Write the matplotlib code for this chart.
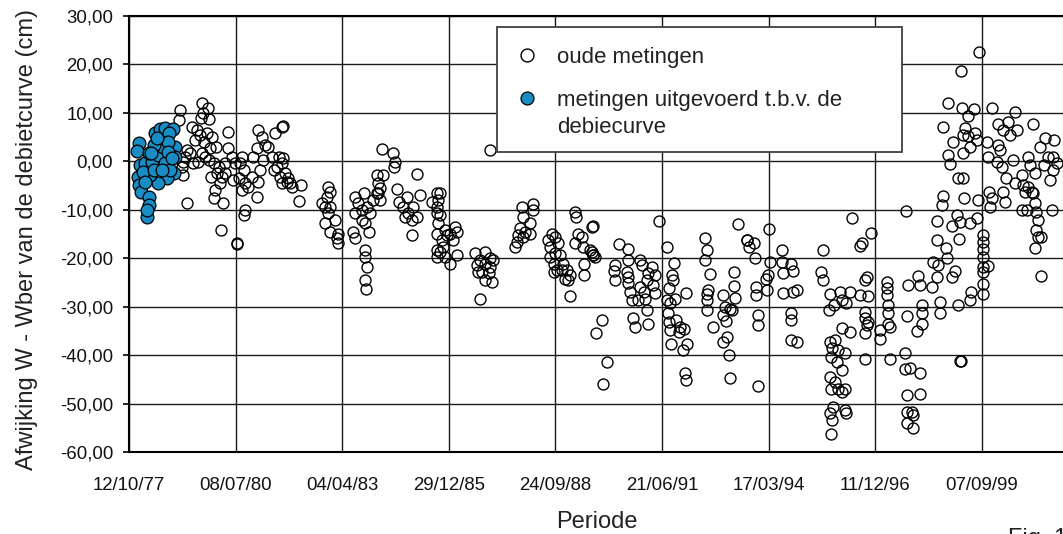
import datetime as dt
import matplotlib
matplotlib.use("Agg")
import matplotlib.pyplot as plt
from matplotlib.patches import Rectangle
from matplotlib.lines import Line2D

# ---------------- data (decimal years, cm) ----------------
# blue: metingen uitgevoerd t.b.v. de debiecurve
new_years = [1978.04, 1977.98, 1978.06, 1978.00, 1978.04, 1978.09, 1978.29, 1978.28, 1978.23, 1978.25,
             1978.45, 1978.58, 1978.70, 1978.92, 1978.81, 1978.96, 1978.96, 1978.94, 1978.75, 1978.53,
             1978.32, 1978.19, 1978.38, 1978.53, 1978.64, 1978.79, 1978.43, 1978.28, 1978.15, 1978.69,
             1978.83, 1978.41, 1978.62, 1978.49, 1978.77, 1978.19, 1978.35, 1978.88]
new_cm = [3.85, 2.2, -0.76, -3.2, -4.9, -6.3, -7.3, -9.0, -11.4, -10.05,
          5.8, 6.6, 6.8, 6.6, 5.8, 3.0, 0.96, -2.5, -3.5, -4.55,
          -2.8, -0.4, -0.07, 1.3, 3.0, 4.05, 3.36, 1.65, -2.1, -0.42,
          -1.8, -1.8, -1.8, 4.74, 2.0, -4.2, 1.65, 0.6]

# open circles: oude metingen, split by period
old_years_1979 = [1979.09, 1979.07, 1979.65, 1979.80, 1979.69, 1979.63, 1979.82, 1979.52, 1979.60, 1979.77,
                  1979.47, 1979.71, 1979.92, 1979.39, 1979.35, 1979.22, 1979.13, 1979.17, 1979.26, 1979.65,
                  1979.73, 1979.82, 1979.86, 1980.01, 1979.95, 1980.09, 1980.03, 1980.16, 1980.12, 1979.99,
                  1979.97, 1980.20, 1980.24, 1980.33, 1980.31, 1980.42, 1980.14, 1980.54, 1980.545, 1980.67,
                  1980.63, 1980.72, 1980.59, 1980.76, 1980.67, 1980.84, 1980.93, 1981.06, 1980.76, 1980.74,
                  1980.46, 1981.10, 1981.14, 1981.10, 1981.19, 1981.06, 1980.97, 1981.23, 1981.36, 1981.53,
                  1981.70, 1981.44, 1981.57, 1981.66, 1981.70, 1981.49, 1979.26, 1979.17, 1979.43, 1979.56,
                  1979.89, 1980.24, 1980.50, 1981.27, 1981.62]
old_cm_1979 = [10.6, 8.5, 12.0, 11.1, 9.9, 8.9, 8.7, 6.5, 5.4, 5.8,
               4.4, 4.05, 5.1, 7.15, 1.65, 0.96, -1.1, -2.8, -8.7, 1.65,
               0.96, 0.27, 2.7, 3.0, -0.4, -1.1, -2.5, -3.2, -4.55, -5.9,
               -7.65, -8.7, -0.4, 2.7, 6.1, 0.96, -14.2, -16.9, -17.0, 0.96,
               -0.4, -1.8, -3.5, -4.55, -5.9, -5.2, -3.2, -7.3, -10.05, -11.1,
               -3.9, -4.2, -1.8, 6.5, 5.1, 2.7, 0.96, 0.27, 3.0, 5.8,
               7.15, 0.96, -1.1, -3.2, -4.55, -1.8, 2.3, -0.07, -0.4, -0.07,
               -3.2, -2.5, -0.4, 3.4, 0.96]

old_years_1982 = [1981.74, 1981.74, 1981.70, 1981.79, 1981.87, 1981.91, 1981.83, 1981.96, 1982.19, 1982.14,
                  1982.90, 1982.94, 1982.86, 1982.73, 1982.81, 1982.94, 1982.90, 1982.81, 1983.07, 1982.94,
                  1983.15, 1983.13, 1983.15, 1983.58, 1983.80, 1983.67, 1983.75, 1983.58, 1983.88, 1983.97,
                  1983.54, 1983.58, 1983.93, 1983.84, 1983.84, 1983.84, 1983.88, 1983.84, 1983.87, 1983.75,
                  1984.05, 1984.14, 1984.22, 1984.18, 1984.14, 1984.29, 1984.27, 1984.57, 1984.61, 1984.59,
                  1984.22, 1984.18, 1984.65, 1984.91, 1985.17, 1985.25, 1984.82, 1984.95, 1985.08, 1985.04,
                  1985.04, 1984.87, 1985.17, 1984.70, 1985.55, 1985.68, 1985.68, 1985.70, 1985.68, 1985.68]
old_cm_1982 = [7.3, 0.6, -0.4, -2.5, -3.5, -4.5, -4.2, -5.2, -4.9, -8.1,
               -5.2, -6.3, -7.3, -8.7, -9.4, -9.4, -10.7, -12.8, -12.1, -14.5,
               -14.9, -15.9, -16.9, -7.3, -6.6, -8.7, -10.1, -10.7, -9.4, -10.7,
               -14.5, -15.9, -14.5, -12.8, -18.3, -19.7, -21.8, -24.5, -26.4, -12.1,
               -8.0, -6.6, -5.6, -4.5, -2.8, -2.8, 2.5, 1.8, -0.1, -1.1,
               -8.0, -6.6, -5.8, -7.3, -2.7, -6.96, -9.4, -10.7, -9.4, -12.1,
               -15.2, -11.4, -11.4, -8.3, -8.3, -6.6, -10.7, -14.9, -18.3, -19.7]

old_years_1987 = [1987.05, 1985.76, 1985.72, 1985.68, 1985.76, 1985.72, 1985.89, 1986.02, 1986.15, 1986.19,
                  1986.11, 1985.81, 1985.76, 1985.89, 1986.02, 1986.19, 1985.85, 1985.95, 1986.66, 1986.92,
                  1987.05, 1986.79, 1986.71, 1986.92, 1987.05, 1987.13, 1986.83, 1987.01, 1986.92, 1987.09,
                  1986.75, 1986.79, 1987.86, 1988.16, 1988.16, 1987.90, 1988.08, 1987.82, 1987.95, 1988.08,
                  1987.78, 1987.90, 1987.73, 1987.69, 1989.23, 1989.25, 1988.63, 1988.72, 1988.55, 1988.59,
                  1988.80, 1988.72, 1988.59, 1988.84, 1988.68, 1988.93, 1988.76, 1989.02, 1989.10, 1989.06,
                  1988.98, 1988.68, 1989.10, 1988.89, 1989.32, 1989.40, 1989.23, 1989.44, 1989.62, 1989.66,
                  1989.70, 1989.47, 1989.47]
old_cm_1987 = [2.3, -6.6, -8.0, -9.4, -11.1, -12.8, -14.2, -14.9, -13.5, -14.5,
               -16.2, -16.2, -18.7, -19.7, -21.1, -19.3, -17.6, -15.2, -19.0, -18.7,
               -20.0, -20.4, -21.4, -21.1, -21.8, -20.4, -22.8, -23.1, -24.5, -24.85,
               -22.8, -28.4, -9.4, -8.8, -10.05, -11.4, -12.8, -13.8, -14.5, -14.9,
               -15.2, -15.6, -16.6, -17.6, -10.4, -11.4, -14.9, -15.6, -16.2, -17.6,
               -16.9, -19.0, -19.7, -19.3, -21.1, -21.1, -22.4, -22.4, -23.5, -24.5,
               -24.2, -22.8, -27.7, -22.4, -14.9, -15.6, -16.9, -17.6, -18.3, -13.5,
               -19.3, -21.1, -23.5]

old_years_1991 = [1989.70, 1989.66, 1989.70, 1989.74, 1989.92, 1989.77, 1990.06, 1989.94, 1990.37, 1990.58,
                  1990.60, 1990.26, 1990.23, 1990.26, 1990.56, 1990.60, 1990.60, 1990.64, 1990.69, 1990.73,
                  1990.77, 1990.90, 1990.94, 1990.90, 1990.99, 1991.07, 1991.11, 1991.20, 1991.28, 1991.24,
                  1991.28, 1991.03, 1991.07, 1991.11, 1990.86, 1991.40, 1991.60, 1991.77, 1991.71, 1991.76,
                  1991.65, 1991.60, 1991.67, 1991.63, 1991.65, 1991.67, 1991.69, 1991.82, 1991.93, 1992.03,
                  1991.91, 1992.01, 1992.10, 1992.08, 1991.80, 1992.06, 1992.07, 1992.57, 1992.61, 1992.57,
                  1992.71, 1992.65, 1992.61, 1992.63, 1992.61, 1992.77, 1993.42, 1993.64, 1993.31, 1993.31,
                  1993.34, 1993.02, 1993.08, 1993.21, 1993.25, 1993.04, 1993.12, 1993.14, 1993.02, 1993.19,
                  1993.21]
old_cm_1991 = [-13.4, -18.7, -19.3, -19.7, -32.8, -35.4, -41.4, -46.0, -17.1, -18.1,
               -20.4, -21.5, -22.6, -24.4, -22.8, -23.8, -25.2, -26.9, -28.6, -32.4,
               -34.1, -20.4, -21.4, -25.9, -26.9, -24.5, -23.1, -21.75, -23.5, -25.5,
               -27.1, -28.5, -30.7, -33.5, -28.6, -12.3, -17.6, -21.0, -23.5, -24.5,
               -26.2, -28.6, -29.3, -31.4, -33.1, -34.8, -37.8, -32.8, -34.1, -34.7,
               -35.2, -39.0, -37.8, -27.1, -28.5, -43.6, -45.2, -15.9, -18.3, -20.4,
               -23.3, -26.6, -27.3, -28.6, -30.7, -34.1, -13.0, -16.2, -22.8, -25.7,
               -28.3, -27.6, -30.0, -30.4, -30.7, -31.7, -32.9, -36.3, -37.2, -40.0,
               -44.8]

old_years_1995 = [1993.66, 1993.83, 1993.70, 1993.85, 1994.21, 1994.24, 1994.54, 1994.55, 1994.58, 1994.79,
                  1994.84, 1994.19, 1994.13, 1993.89, 1993.89, 1994.15, 1994.58, 1994.84, 1994.92, 1993.94,
                  1993.94, 1994.79, 1994.78, 1994.79, 1994.92, 1993.92, 1996.35, 1996.83, 1996.61, 1996.55,
                  1995.61, 1995.56, 1995.61, 1995.78, 1996.03, 1996.29, 1996.55, 1996.76, 1995.89, 1995.75,
                  1996.19, 1996.08, 1996.72, 1996.68, 1996.68, 1996.69, 1996.72, 1996.68, 1996.76, 1997.06,
                  1997.06, 1997.23, 1997.23, 1997.23, 1997.28, 1997.26, 1997.28, 1997.32, 1996.69, 1997.32,
                  1996.08, 1996.29, 1995.78, 1995.91, 1995.82, 1995.99, 1996.16, 1995.80, 1995.95, 1996.08,
                  1995.78, 1995.91, 1995.80, 1995.99, 1996.16, 1996.08, 1995.86, 1995.78, 1995.82, 1996.16,
                  1996.20, 1995.80]
old_cm_1995 = [-16.2, -16.8, -17.6, -20.0, -14.0, -20.7, -18.3, -20.7, -23.1, -21.1,
               -22.6, -23.5, -24.2, -25.9, -27.6, -26.6, -27.1, -26.9, -26.6, -31.7,
               -33.8, -31.4, -32.8, -36.9, -37.2, -46.4, -11.8, -14.7, -16.9, -17.5,
               -18.4, -22.8, -24.5, -27.3, -26.9, -26.9, -27.6, -27.9, -29.7, -30.7,
               -29.3, -28.6, -23.8, -24.5, -31.0, -32.4, -33.8, -35.5, -33.1, -34.8,
               -36.6, -24.9, -26.2, -27.6, -29.7, -31.4, -33.5, -34.1, -40.7, -40.7,
               -34.5, -35.2, -37.2, -36.9, -38.6, -39.0, -39.6, -40.3, -41.4, -43.1,
               -44.5, -45.5, -46.9, -46.9, -46.9, -47.6, -50.7, -52.0, -53.4, -51.4,
               -52.0, -56.2]

old_years_1999 = [1999.61, 1999.14, 1998.82, 1999.16, 1999.33, 1999.47, 1999.95, 1998.69, 1999.24, 1999.20,
                  1999.33, 1999.50, 1999.56, 1998.94, 1999.37, 1999.20, 1998.82, 1998.86, 1999.07, 1999.20,
                  1998.69, 1998.65, 1999.22, 1999.59, 1997.73, 1998.52, 1999.03, 1999.13, 1998.90, 1999.37,
                  1999.56, 1999.10, 1998.53, 1998.77, 1998.79, 1998.43, 1998.56, 1998.99, 1998.90, 1998.53,
                  1998.05, 1997.79, 1998.09, 1998.39, 1999.39, 1999.37, 1999.07, 1998.60, 1998.60, 1998.15,
                  1998.13, 1998.13, 1998.01, 1997.76, 1997.70, 1997.83, 1998.10, 1997.70, 1999.13, 1999.14,
                  1999.71, 1999.70, 1999.71, 1999.70, 1999.71, 1999.70, 1999.84, 1999.72, 1999.71, 1999.82,
                  2000.10, 2000.36, 2000.53, 2001.00, 2000.23, 2000.40, 2000.57, 2000.10, 2000.14, 1999.84,
                  2000.06, 2000.19, 2000.48, 2000.31, 2000.53, 1999.87, 1999.93, 2000.22, 2000.27, 1999.89,
                  2000.70, 2000.74, 2000.78, 2000.87, 2000.96, 2000.87, 2000.91, 2001.04, 2001.00, 2000.70,
                  2000.83, 2001.04, 2001.08, 2001.13, 2001.08, 2001.13, 2001.21, 2001.04, 2001.19, 2001.30,
                  2001.53, 2001.17, 2001.38, 2001.51, 2001.51, 2001.42, 2001.47, 2001.60, 2001.27, 1997.75,
                  1998.09, 1997.75, 1997.88, 1997.91, 1997.75, 1997.91]
old_cm_1999 = [22.6, 18.6, 12.1, 11.1, 9.3, 10.9, 11.1, 7.15, 6.8, 5.4,
               5.2, 5.9, 4.4, 4.05, 3.0, 1.65, 1.3, -0.56, -3.5, -3.5,
               -7.2, -9.0, -7.65, -8.0, -10.3, -12.3, -11.1, -12.6, -13.4, -12.8,
               -11.8, -16.0, -16.2, -17.8, -20.0, -20.7, -21.4, -22.6, -23.8, -23.8,
               -23.7, -25.5, -25.5, -25.9, -26.9, -28.6, -29.7, -29.0, -31.4, -29.7,
               -31.4, -33.5, -35.0, -32.0, -39.6, -42.7, -43.6, -42.9, -41.2, -41.3,
               -15.2, -16.6, -18.0, -19.7, -21.8, -22.8, -21.6, -25.3, -27.3, 4.05,
               7.8, 8.2, 10.2, 7.8, 6.5, 5.4, 6.5, 3.4, 2.3, 0.96,
               -0.07, -1.1, 0.27, -3.5, -4.5, -6.3, -7.65, -6.3, -8.3, -9.4,
               -2.8, -4.9, -6.3, -5.2, -6.3, 0.96, -0.76, -2.5, -6.6, -10.05,
               -10.05, -8.7, -10.4, -12.1, -14.2, -15.6, -15.6, -17.8, -23.6, 4.74,
               4.4, 3.0, 0.96, 0.96, -1.8, -3.9, -10.05, -0.4, -0.76, -48.2,
               -48.0, -51.7, -51.7, -52.4, -54.1, -55.1]

y_ticks = [-60, -50, -40, -30, -20, -10, 0, 10, 20, 30]
x_start = dt.date(1977, 10, 12)
x_step_days = 1000
n_x_ticks = 9

old_years = old_years_1979 + old_years_1982 + old_years_1987 + old_years_1991 + old_years_1995 + old_years_1999
old_cm = old_cm_1979 + old_cm_1982 + old_cm_1987 + old_cm_1991 + old_cm_1995 + old_cm_1999
assert len(old_years) == len(old_cm) and len(new_years) == len(new_cm)


def dec_year(d):
    a = dt.date(d.year, 1, 1)
    b = dt.date(d.year + 1, 1, 1)
    return d.year + (d - a).days / (b - a).days


tick_dates = [x_start + dt.timedelta(days=x_step_days * k) for k in range(n_x_ticks)]
tick_pos = [dec_year(d) for d in tick_dates]
tick_lab = [d.strftime("%d/%m/%y") for d in tick_dates]

# ---------------- figure ----------------
plt.rcParams["font.family"] = ["Liberation Sans", "DejaVu Sans"]
W, H = 1063, 534
fig = plt.figure(figsize=(W / 100, H / 100), dpi=100)
ax_l, ax_t, ax_r, ax_b = 129, 16, 1064, 452
ax = fig.add_axes([ax_l / W, 1 - ax_b / H, (ax_r - ax_l) / W, (ax_b - ax_t) / H])

ax.plot(old_years, old_cm, linestyle="none", marker="o", ms=7.9, mfc="none",
        mec="black", mew=1.0, zorder=3)
ax.plot(new_years, new_cm, linestyle="none", marker="o", ms=9.2, mfc="#1a8cc4",
        mec="black", mew=0.9, zorder=4)

span = (tick_pos[-1] - tick_pos[0]) * (ax_r - ax_l) / (982 - 129)
ax.set_xlim(tick_pos[0], tick_pos[0] + span)
ax.set_ylim(-60, 30)
ax.set_xticks(tick_pos)
ax.set_xticklabels(tick_lab)
ax.set_yticks(y_ticks)
ax.set_yticklabels([f"{v:.2f}".replace(".", ",") for v in y_ticks])

ax.grid(True, color="#1a1a1a", lw=1.0)
ax.set_axisbelow(True)
for s in ax.spines.values():
    s.set_linewidth(1.5)
    s.set_color("black")

ax.tick_params(axis="x", length=0, pad=18, labelsize=13.4, labelcolor="#111111")
ax.tick_params(axis="y", direction="out", length=4.3, width=1.2, pad=7,
               labelsize=13.4, labelcolor="#111111")

ax.set_xlabel("Periode", fontsize=17, color="#222222")
ax.xaxis.set_label_coords(0.5, (ax_b - 528) / (ax_b - ax_t))
ax.xaxis.label.set_va("baseline")
ax.set_ylabel("Afwijking W - Wber van de debietcurve (cm)", fontsize=17, color="#222222")
ax.yaxis.set_label_coords((33 - ax_l) / (ax_r - ax_l), (ax_b - 240) / (ax_b - ax_t))
ax.yaxis.label.set_va("baseline")

# legend box (drawn manually so the marker aligns with the first text line)
fx = lambda px: px / W
fy = lambda py: 1 - py / H
fig.add_artist(Rectangle((fx(497), fy(152)), (902 - 497) / W, (152 - 27) / H,
                         transform=fig.transFigure, fc="white", ec="#404040",
                         lw=1.3, zorder=10))
fig.add_artist(Line2D([fx(527)], [fy(55)], transform=fig.transFigure, linestyle="none",
                      marker="o", ms=9.3, mfc="none", mec="black", mew=1.0, zorder=11))
fig.add_artist(Line2D([fx(527)], [fy(98)], transform=fig.transFigure, linestyle="none",
                      marker="o", ms=9.3, mfc="#1a8cc4", mec="black", mew=0.9, zorder=11))
fig.text(fx(557), fy(62.5), "oude metingen", fontsize=16, color="#222222",
         va="baseline", ha="left", zorder=12)
fig.text(fx(557), fy(106), "metingen uitgevoerd t.b.v. de", fontsize=16, color="#222222",
         va="baseline", ha="left", zorder=12)
fig.text(fx(557), fy(132.7), "debiecurve", fontsize=16, color="#222222",
         va="baseline", ha="left", zorder=12)

# caption that the original figure crops at its lower edge
fig.text(fx(1008), fy(545), "Fig. 1", fontsize=17, color="#222222", va="baseline", ha="left")

fig.savefig("out.png", dpi=100)
